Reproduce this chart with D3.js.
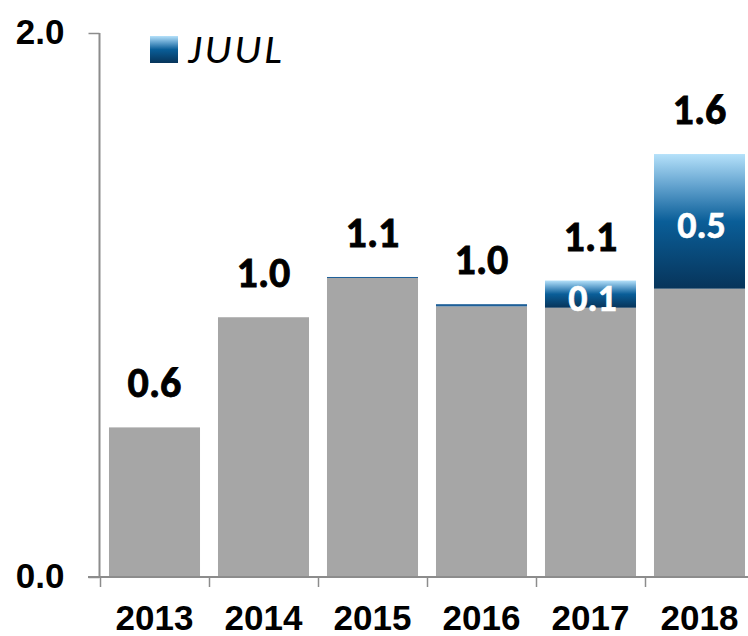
<!DOCTYPE html>
<html>
<head>
<meta charset="utf-8">
<script src="https://cdn.jsdelivr.net/npm/d3@7/dist/d3.min.js"></script>
<style>
  html, body { margin: 0; padding: 0; background: #fff; }
  svg { display: block; }
</style>
</head>
<body>
<script>
// ---- data ----
const years = ['2013', '2014', '2015', '2016', '2017', '2018'];
const otherValues = [0.55, 0.955, 1.10, 0.995, 0.99, 1.06];
const juulValues = [0, 0, 0.003, 0.008, 0.10, 0.495];
const totalLabels = ['0.6', '1.0', '1.1', '1.0', '1.1', '1.6'];
const juulLabels = ['', '', '', '', '0.1', '0.5'];
const yTicks = [0, 2];
const legendLabel = 'JUUL';

const W = 748, H = 636;
const svg = d3.select('body').append('svg').attr('width', W).attr('height', H);

const defs = svg.append('defs');
const grad = defs.append('linearGradient').attr('id', 'juulGrad')
  .attr('x1', 0).attr('y1', 0).attr('x2', 0).attr('y2', 1);
grad.append('stop').attr('offset', '0%').attr('stop-color', '#b5e1fa');
grad.append('stop').attr('offset', '25%').attr('stop-color', '#5e9fcc');
grad.append('stop').attr('offset', '50%').attr('stop-color', '#0a5e98');
grad.append('stop').attr('offset', '100%').attr('stop-color', '#07345a');

const x = d3.scaleBand().domain(years).range([100, 754])
  .paddingInner(0.165).paddingOuter(0.0825);
const y = d3.scaleLinear().domain([0, 2]).range([577, 33]);

const data = years.map((yr, i) => ({
  year: yr, other: otherValues[i], juul: juulValues[i],
  total: otherValues[i] + juulValues[i],
  totalLabel: totalLabels[i], juulLabel: juulLabels[i]
}));

// gray bars
svg.append('g').selectAll('rect').data(data).join('rect')
  .attr('x', d => x(d.year)).attr('width', x.bandwidth())
  .attr('y', d => y(d.other)).attr('height', d => y(0) - y(d.other))
  .attr('fill', '#a6a6a6');

// JUUL bars
svg.append('g').selectAll('rect').data(data.filter(d => d.juul > 0)).join('rect')
  .attr('x', d => x(d.year)).attr('width', x.bandwidth())
  .attr('y', d => y(d.total)).attr('height', d => Math.max(1, y(d.other) - y(d.total)))
  .attr('fill', d => (y(d.other) - y(d.total)) < 4 ? '#1d5f98' : 'url(#juulGrad)');

// axes
const axisColor = '#8c8c8c';
const yAxis = svg.append('g').attr('transform', 'translate(99.5,0)')
  .call(d3.axisLeft(y).tickValues(yTicks).tickSize(11).tickPadding(24)
    .tickFormat(d3.format('.1f')));
yAxis.select('.domain').attr('stroke', axisColor).attr('stroke-width', 2)
  .attr('d', `M0,${y(2)}V${y(0)}`);
yAxis.selectAll('.tick line').attr('stroke', axisColor).attr('stroke-width', 1.5);
yAxis.selectAll('.tick text')
  .attr('font-family', '"Liberation Sans", Arial, sans-serif')
  .attr('font-weight', 'bold').attr('font-size', 35).attr('fill', '#000')
  .attr('dy', '0.30em');

const xAxis = svg.append('g').attr('transform', `translate(0,${y(0)})`)
  .call(d3.axisBottom(x).tickSize(0).tickPadding(28));
xAxis.select('.domain').attr('stroke', axisColor).attr('stroke-width', 2)
  .attr('d', `M88,0H${W}`);
xAxis.selectAll('.tick text')
  .attr('font-family', '"Liberation Sans", Arial, sans-serif')
  .attr('font-weight', 'bold').attr('font-size', 35).attr('fill', '#000');

// x boundary ticks
const bounds = years.map(yr => x(yr) - x.step() * x.paddingInner() / 2);
svg.append('g').selectAll('line').data(bounds).join('line')
  .attr('x1', d => Math.round(d) + 0.5).attr('x2', d => Math.round(d) + 0.5)
  .attr('y1', y(0)).attr('y2', y(0) + 10)
  .attr('stroke', axisColor).attr('stroke-width', 1.5);

// total labels
const labelFont = 'Carlito, Lato, "Open Sans", sans-serif';
svg.append('g').selectAll('text').data(data).join('text')
  .attr('x', d => x(d.year) + x.bandwidth() / 2)
  .attr('y', d => y(d.total) - 30)
  .attr('text-anchor', 'middle')
  .attr('font-family', labelFont).attr('font-weight', 'bold')
  .attr('font-size', 42).attr('fill', '#000')
  .attr('stroke', '#000').attr('stroke-width', 0.8)
  .text(d => d.totalLabel);

// JUUL labels
svg.append('g').selectAll('text').data(data.filter(d => d.juulLabel)).join('text')
  .attr('x', d => x(d.year) + x.bandwidth() / 2 + 2)
  .attr('y', d => (y(d.total) + y(d.other)) / 2 + 17)
  .attr('text-anchor', 'middle')
  .attr('font-family', labelFont).attr('font-weight', 'bold')
  .attr('font-size', 38).attr('fill', '#fff')
  .attr('stroke', '#fff').attr('stroke-width', 0.6)
  .text(d => d.juulLabel);

// legend
const lg = svg.append('g');
lg.append('rect').attr('x', 150).attr('y', 36).attr('width', 28).attr('height', 27)
  .attr('fill', 'url(#juulGrad)');
lg.append('text').attr('x', 188).attr('y', 63)
  .attr('font-family', labelFont).attr('font-style', 'italic')
  .attr('font-size', 42).attr('letter-spacing', 3).attr('fill', '#000').text(legendLabel);
</script>
</body>
</html>
